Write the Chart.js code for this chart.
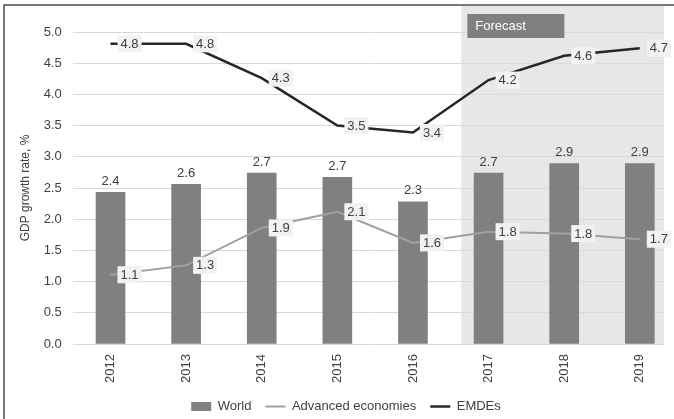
<!DOCTYPE html>
<html><head><meta charset="utf-8">
<script src="https://cdn.jsdelivr.net/npm/chart.js@4/dist/chart.umd.min.js"></script>
<style>html,body{margin:0;padding:0;background:#fff;overflow:hidden}#wrap{width:674px;height:419px;position:relative}</style>
</head><body><div id="wrap"><canvas id="c" width="674" height="419"></canvas></div>
<script>
// ---- data ----
const years = ['2012','2013','2014','2015','2016','2017','2018','2019'];
const world = [2.43, 2.56, 2.74, 2.67, 2.28, 2.74, 2.89, 2.89];
const advanced = [1.11, 1.26, 1.86, 2.12, 1.62, 1.80, 1.77, 1.68];
const emdes = [4.81, 4.81, 4.26, 3.50, 3.39, 4.23, 4.62, 4.74];
const yTickValues = [0, 0.5, 1, 1.5, 2, 2.5, 3, 3.5, 4, 4.5, 5];
const seriesNames = ['World', 'Advanced economies', 'EMDEs'];
const yTitle = 'GDP growth rate, %';
const forecastText = 'Forecast';
const forecastFromYear = '2017';

const FONT = "'Liberation Sans', Arial, sans-serif";
Chart.defaults.font.family = FONT;
Chart.defaults.font.size = 13;
Chart.defaults.color = '#404040';

const pts = arr => arr.map((v, i) => ({x: i, y: v}));

const shadePlugin = {
  id: 'shade',
  beforeDraw(chart) {
    const {ctx, chartArea, scales} = chart;
    const x0 = scales.x.getPixelForValue(years.indexOf(forecastFromYear) - 0.36);
    ctx.save();
    ctx.fillStyle = '#ffffff';
    ctx.fillRect(0, 0, chart.width, chart.height);
    ctx.fillStyle = '#e7e7e7';
    ctx.fillRect(x0, 6, chartArea.right - x0, chartArea.bottom - 6);
    ctx.restore();
  },
  afterDatasetsDraw(chart) {
    const {ctx, scales} = chart;
    ctx.save();
    ctx.font = '13px ' + FONT;
    ctx.textBaseline = 'middle';
    ctx.textAlign = 'center';
    // bar labels
    const barMeta = chart.getDatasetMeta(0);
    barMeta.data.forEach((el, i) => {
      ctx.fillStyle = '#404040';
      ctx.fillText(world[i].toFixed(1), el.x, el.y - 11);
    });
    // line labels
    [[1, advanced], [2, emdes]].forEach(([di, vals]) => {
      const meta = chart.getDatasetMeta(di);
      meta.data.forEach((el, i) => {
        const t = vals[i].toFixed(1);
        const w = ctx.measureText(t).width + 6;
        const bx = el.x + 7;
        ctx.fillStyle = '#f2f2f2';
        ctx.fillRect(bx, el.y - 8.5, w, 17);
        ctx.fillStyle = '#404040';
        ctx.fillText(t, bx + w / 2, el.y + 0.5);
      });
    });
    // forecast box
    const x0 = scales.x.getPixelForValue(years.indexOf(forecastFromYear) - 0.36);
    ctx.fillStyle = '#808080';
    ctx.fillRect(x0 + 6, 14, 97, 24);
    ctx.fillStyle = '#ffffff';
    ctx.textAlign = 'left';
    ctx.fillText(forecastText, x0 + 14, 26.5);
    ctx.restore();
  },
  afterDraw(chart) {
    const {ctx} = chart;
    ctx.save();
    ctx.strokeStyle = '#4d4d4d';
    ctx.lineWidth = 1.5;
    ctx.beginPath();
    ctx.moveTo(4, chart.height);
    ctx.lineTo(4, 5);
    ctx.lineTo(chart.width, 5);
    ctx.stroke();
    ctx.restore();
  }
};

new Chart(document.getElementById('c'), {
  data: {
    datasets: [
      {type: 'bar', label: seriesNames[0], data: pts(world), backgroundColor: '#808080', barThickness: 29, order: 3},
      {type: 'line', label: seriesNames[1], data: pts(advanced), borderColor: '#a0a0a0', borderWidth: 2, pointRadius: 0, tension: 0, order: 2},
      {type: 'line', label: seriesNames[2], data: pts(emdes), borderColor: '#262626', borderWidth: 2.5, pointRadius: 0, tension: 0, order: 1}
    ]
  },
  options: {
    responsive: false,
    animation: false,
    devicePixelRatio: 1,
    layout: {padding: {left: 28, right: 10, top: 32, bottom: -4}},
    plugins: {
      tooltip: {enabled: false},
      legend: {
        position: 'bottom',
        labels: {
          usePointStyle: true,
          pointStyleWidth: 20,
          boxHeight: 9,
          padding: 14,
          color: '#404040',
          font: {size: 13},
          generateLabels: () => [
            {text: seriesNames[0], fillStyle: '#808080', strokeStyle: '#808080', lineWidth: 0, pointStyle: 'rect', datasetIndex: 0, fontColor: '#404040'},
            {text: seriesNames[1], fillStyle: '#a0a0a0', strokeStyle: '#a0a0a0', lineWidth: 2, pointStyle: 'line', datasetIndex: 1, fontColor: '#404040'},
            {text: seriesNames[2], fillStyle: '#262626', strokeStyle: '#262626', lineWidth: 2.5, pointStyle: 'line', datasetIndex: 2, fontColor: '#404040'}
          ]
        }
      }
    },
    scales: {
      x: {
        type: 'linear',
        offset: false,
        min: -0.5,
        max: 7.32,
        grid: {display: false},
        border: {display: false},
        afterBuildTicks: s => { s.ticks = years.map((_, i) => ({value: i})); },
        afterFit: s => { s.height = 42; },
        ticks: {
          autoSkip: false, minRotation: 90, maxRotation: 90, padding: 2,
          color: '#404040',
          callback: v => years[v]
        }
      },
      y: {
        min: 0, max: 5,
        afterBuildTicks: s => { s.ticks = yTickValues.map(v => ({value: v})); },
        afterFit: s => { s.width = 44.7; },
        grid: {color: '#d9d9d9', lineWidth: 1, drawTicks: false},
        border: {display: false},
        ticks: {padding: 11, color: '#404040', callback: v => v.toFixed(1)},
        title: {display: true, text: yTitle, padding: {top: -10, bottom: 0}, color: '#404040', font: {size: 12}}
      }
    }
  },
  plugins: [shadePlugin]
});
</script>
</body></html>
